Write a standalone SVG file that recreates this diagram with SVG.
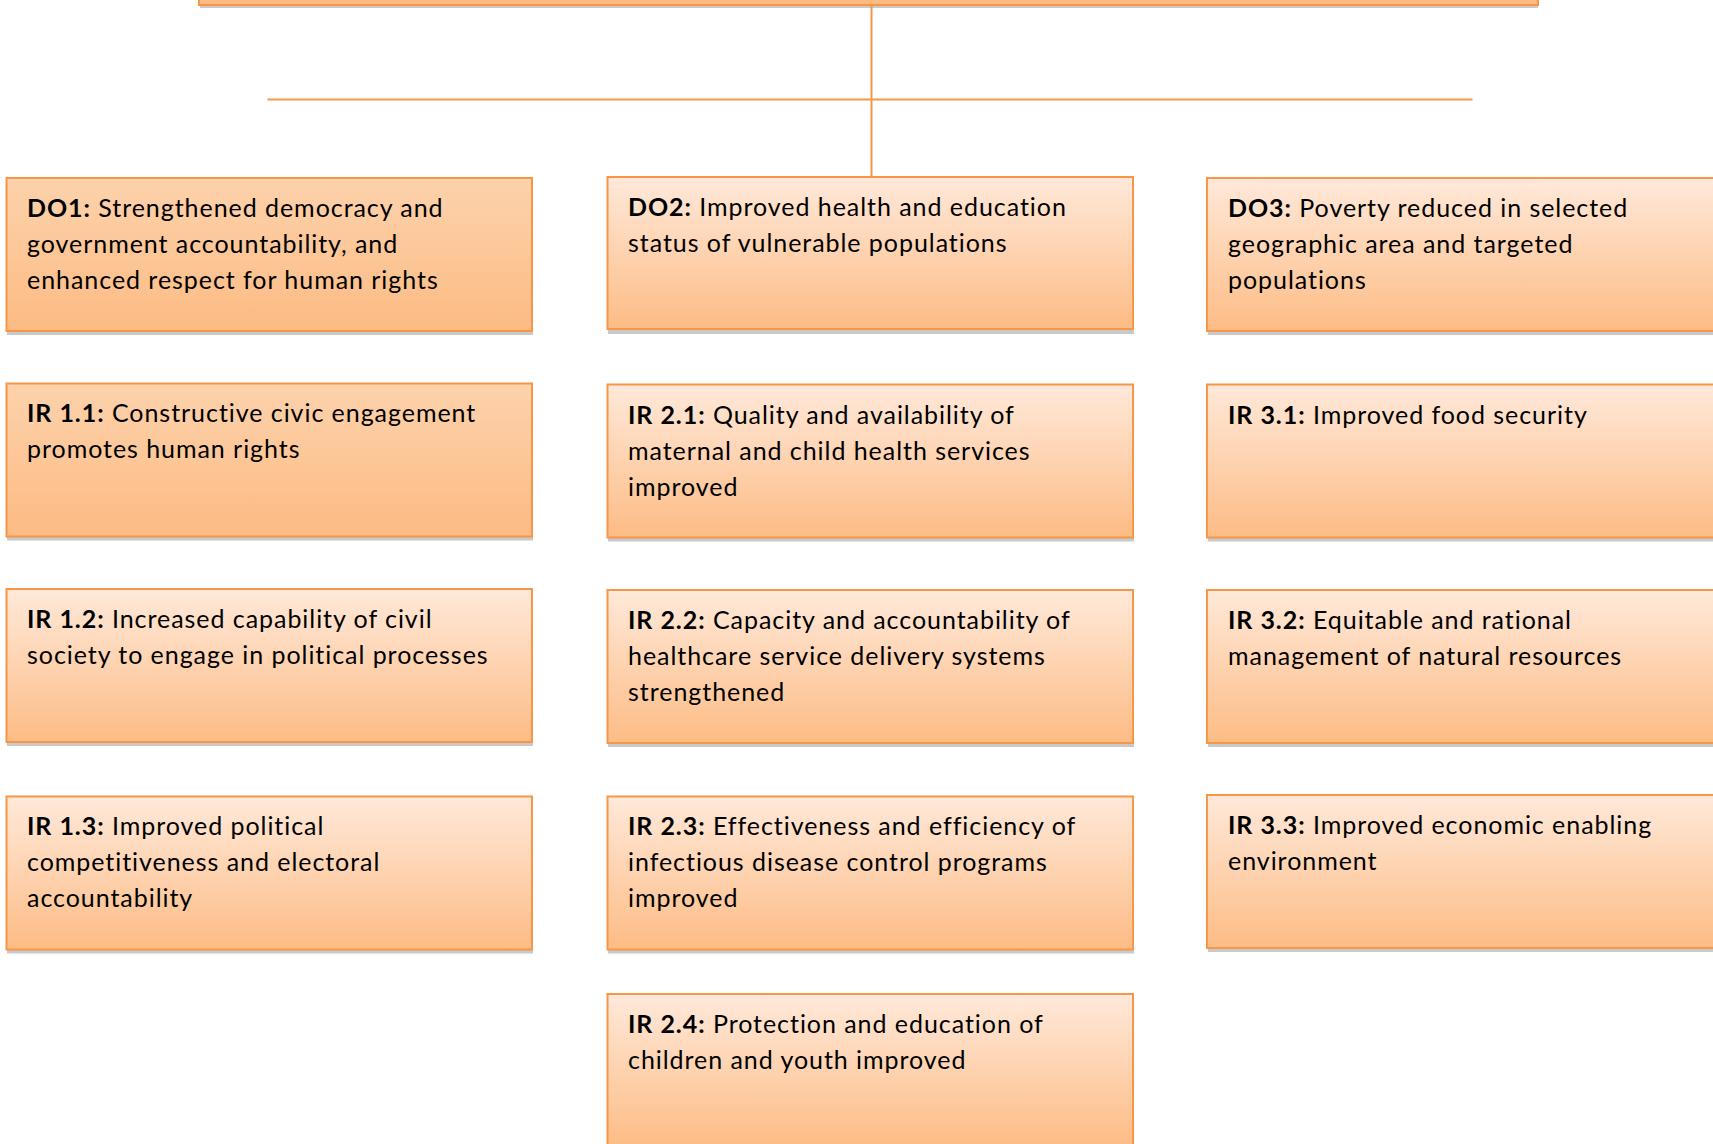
<svg xmlns="http://www.w3.org/2000/svg" width="1713" height="1144" viewBox="0 0 1713 1144">
<defs>
<linearGradient id="gL" x1="0" y1="0" x2="0" y2="1">
<stop offset="0" stop-color="#FFE9DA"/>
<stop offset="1" stop-color="#FDBC85"/>
</linearGradient>
<linearGradient id="gD" x1="0" y1="0" x2="0" y2="1">
<stop offset="0" stop-color="#FDD2AC"/>
<stop offset="1" stop-color="#FCBB83"/>
</linearGradient>
<linearGradient id="gT" x1="0" y1="0" x2="0" y2="1">
<stop offset="0" stop-color="#FDCB9E"/>
<stop offset="1" stop-color="#FDB97F"/>
</linearGradient>
</defs>
<style>
.sh{fill:#C9C9C9}
.bx{stroke:#F79646;stroke-width:2}
.t{font-family:Lato,"Liberation Sans",sans-serif;font-size:25px;letter-spacing:0.95px;fill:#000}
.b{font-weight:bold}
.c{stroke:#F79646;stroke-width:2;fill:none}
</style>
<rect width="1713" height="1144" fill="#FFFFFF"/>
<g id="top">
<rect class="sh" x="200" y="-50" width="1338" height="58"/>
<rect class="bx" x="199" y="-50" width="1339" height="55" fill="url(#gT)"/>
</g>
<g id="connectors">
<line class="c" x1="871.5" y1="5" x2="871.5" y2="177"/>
<line class="c" x1="267.5" y1="99.5" x2="1472.5" y2="99.5"/>
</g>
<g id="DO1">
<rect class="sh" x="7" y="182" width="526" height="153"/>
<rect class="bx" x="6.5" y="178" width="525.5" height="153" fill="url(#gD)"/>
<text class="t" x="27" y="217"><tspan class="b">DO1:</tspan> Strengthened democracy and</text>
<text class="t" x="27" y="253">government accountability, and</text>
<text class="t" x="27" y="289">enhanced respect for human rights</text>
</g>
<g id="DO2">
<rect class="sh" x="608" y="181" width="526" height="153"/>
<rect class="bx" x="607.5" y="177" width="525.5" height="152" fill="url(#gL)"/>
<text class="t" x="628" y="216"><tspan class="b">DO2:</tspan> Improved health and education</text>
<text class="t" x="628" y="252">status of vulnerable populations</text>
</g>
<g id="DO3">
<rect class="sh" x="1208" y="182" width="540" height="153"/>
<rect class="bx" x="1207" y="178" width="540" height="153" fill="url(#gL)"/>
<text class="t" x="1228" y="217"><tspan class="b">DO3:</tspan> Poverty reduced in selected</text>
<text class="t" x="1228" y="253">geographic area and targeted</text>
<text class="t" x="1228" y="289">populations</text>
</g>
<g id="IR11">
<rect class="sh" x="7" y="387.5" width="526" height="153"/>
<rect class="bx" x="6.5" y="383.5" width="525.5" height="153" fill="url(#gD)"/>
<text class="t" x="27" y="422"><tspan class="b">IR 1.1:</tspan> Constructive civic engagement</text>
<text class="t" x="27" y="458">promotes human rights</text>
</g>
<g id="IR21">
<rect class="sh" x="608" y="388.5" width="526" height="153"/>
<rect class="bx" x="607.5" y="384.5" width="525.5" height="153" fill="url(#gL)"/>
<text class="t" x="628" y="424"><tspan class="b">IR 2.1:</tspan> Quality and availability of</text>
<text class="t" x="628" y="460">maternal and child health services</text>
<text class="t" x="628" y="496">improved</text>
</g>
<g id="IR31">
<rect class="sh" x="1208" y="388.5" width="540" height="153"/>
<rect class="bx" x="1207" y="384.5" width="540" height="153" fill="url(#gL)"/>
<text class="t" x="1228" y="424"><tspan class="b">IR 3.1:</tspan> Improved food security</text>
</g>
<g id="IR12">
<rect class="sh" x="7" y="593" width="526" height="153"/>
<rect class="bx" x="6.5" y="589" width="525.5" height="153" fill="url(#gL)"/>
<text class="t" x="27" y="628"><tspan class="b">IR 1.2:</tspan> Increased capability of civil</text>
<text class="t" x="27" y="664">society to engage in political processes</text>
</g>
<g id="IR22">
<rect class="sh" x="608" y="594" width="526" height="153"/>
<rect class="bx" x="607.5" y="590" width="525.5" height="153" fill="url(#gL)"/>
<text class="t" x="628" y="629"><tspan class="b">IR 2.2:</tspan> Capacity and accountability of</text>
<text class="t" x="628" y="665">healthcare service delivery systems</text>
<text class="t" x="628" y="701">strengthened</text>
</g>
<g id="IR32">
<rect class="sh" x="1208" y="594" width="540" height="153"/>
<rect class="bx" x="1207" y="590" width="540" height="153" fill="url(#gL)"/>
<text class="t" x="1228" y="629"><tspan class="b">IR 3.2:</tspan> Equitable and rational</text>
<text class="t" x="1228" y="665">management of natural resources</text>
</g>
<g id="IR13">
<rect class="sh" x="7" y="800.5" width="526" height="153"/>
<rect class="bx" x="6.5" y="796.5" width="525.5" height="153" fill="url(#gL)"/>
<text class="t" x="27" y="835"><tspan class="b">IR 1.3:</tspan> Improved political</text>
<text class="t" x="27" y="871">competitiveness and electoral</text>
<text class="t" x="27" y="907">accountability</text>
</g>
<g id="IR23">
<rect class="sh" x="608" y="800.5" width="526" height="153"/>
<rect class="bx" x="607.5" y="796.5" width="525.5" height="153" fill="url(#gL)"/>
<text class="t" x="628" y="835"><tspan class="b">IR 2.3:</tspan> Effectiveness and efficiency of</text>
<text class="t" x="628" y="871">infectious disease control programs</text>
<text class="t" x="628" y="907">improved</text>
</g>
<g id="IR33">
<rect class="sh" x="1208" y="799" width="540" height="153"/>
<rect class="bx" x="1207" y="795" width="540" height="153" fill="url(#gL)"/>
<text class="t" x="1228" y="834"><tspan class="b">IR 3.3:</tspan> Improved economic enabling</text>
<text class="t" x="1228" y="870">environment</text>
</g>
<g id="IR24">
<rect class="sh" x="608" y="998" width="526" height="153"/>
<rect class="bx" x="607.5" y="994" width="525.5" height="153" fill="url(#gL)"/>
<text class="t" x="628" y="1033"><tspan class="b">IR 2.4:</tspan> Protection and education of</text>
<text class="t" x="628" y="1069">children and youth improved</text>
</g>
</svg>
